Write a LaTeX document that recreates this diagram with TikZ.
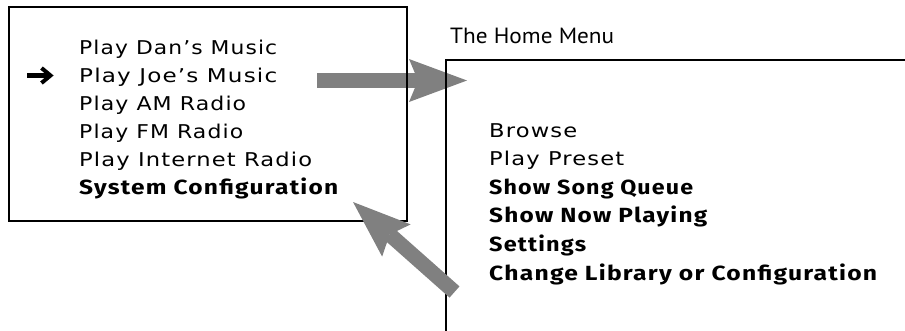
\documentclass[tikz,border=0pt]{standalone}
\usepackage{fontspec}
\usepackage{graphicx}
\usetikzlibrary{arrows.meta}
\newfontfamily\regf[LetterSpace=5]{DejaVu Sans}
\newfontfamily\boldf[LetterSpace=5]{Fira Sans}
\newfontfamily\titlef{PT Sans}
\newcommand\fitw[2]{\resizebox{#1pt}{\height}{#2}}
\definecolor{arrowgray}{HTML}{808080}
\tikzset{
  menuitem/.style={anchor=base west, inner sep=0pt, font=\regf\fontsize{19}{19}\selectfont},
  menubold/.style={anchor=base west, inner sep=0pt, font=\boldf\bfseries\fontsize{20.5}{20.5}\selectfont},
  titletext/.style={anchor=base west, inner sep=0pt, font=\titlef\fontsize{22}{22}\selectfont},
  framebox/.style={draw=black, line width=2pt},
  pointerstroke/.style={draw=black, line width=4.5pt, line join=miter},
  bigarrow/.style={draw=arrowgray, line width=15pt,
    -{Stealth[length=58pt,width=43pt,inset=9pt,line width=0pt,fill=arrowgray]}}
}
\begin{document}
\begin{tikzpicture}[x=1pt,y=-1pt]
\useasboundingbox (0,0) rectangle (905,330);
% horizontal arrow (behind the frames)
\coordinate (a1tail) at (317,80.5);
\coordinate (a1tip) at (467,80.5);
\draw[bigarrow] (a1tail) -- (a1tip);
% left menu frame
\node[framebox, minimum width=398pt, minimum height=214pt, inner sep=0pt] (leftbox) at (208,114) {};
% home menu frame (open to the right and bottom)
\coordinate (homecorner) at (446,60);
\coordinate (homeright) at (912,60);
\coordinate (homebottom) at (446,336);
\draw[framebox, line width=2.5pt] (homeright) -- (homecorner) -- (homebottom);
% diagonal arrow
\coordinate (a2tail) at (454.5,292);
\coordinate (a2tip) at (353,202);
\draw[bigarrow] (a2tail) -- (a2tip);
% selection pointer
\coordinate (ptail) at (27,75.5);
\coordinate (ptip) at (49,75.5);
\draw[pointerstroke] (ptail) -- (ptip);
\draw[pointerstroke, line width=4pt] ([shift={(-7.5,-7.5)}]ptip) -- ([shift={(1.5,0)}]ptip) -- ([shift={(-7.5,7.5)}]ptip);
% left menu texts
\node[menuitem] (l1) at (79,54)    {\fitw{198}{Play Dan’s Music}};
\node[menuitem] (l2) at (79,82.1)  {\fitw{198}{Play Joe’s Music}};
\node[menuitem] (l3) at (79,110.2) {\fitw{167}{Play AM Radio}};
\node[menuitem] (l4) at (79,138.3) {\fitw{164}{Play FM Radio}};
\node[menuitem] (l5) at (79,166.4) {\fitw{233}{Play Internet Radio}};
\node[menubold] (l6) at (79,194.5) {\fitw{259}{System Configuration}};
% home menu
\node[titletext] (title) at (450,43) {\fitw{164}{The Home Menu}};
\node[menuitem] (r1) at (489,137)   {\fitw{88}{Browse}};
\node[menuitem] (r2) at (489,165.6) {\fitw{135}{Play Preset}};
\node[menubold] (r3) at (489,194.2) {\fitw{204}{Show Song Queue}};
\node[menubold] (r4) at (489,222.8) {\fitw{218}{Show Now Playing}};
\node[menubold] (r5) at (489,251.4) {\fitw{97}{Settings}};
\node[menubold] (r6) at (489,280)   {\fitw{388}{Change Library or Configuration}};
\end{tikzpicture}
\end{document}
